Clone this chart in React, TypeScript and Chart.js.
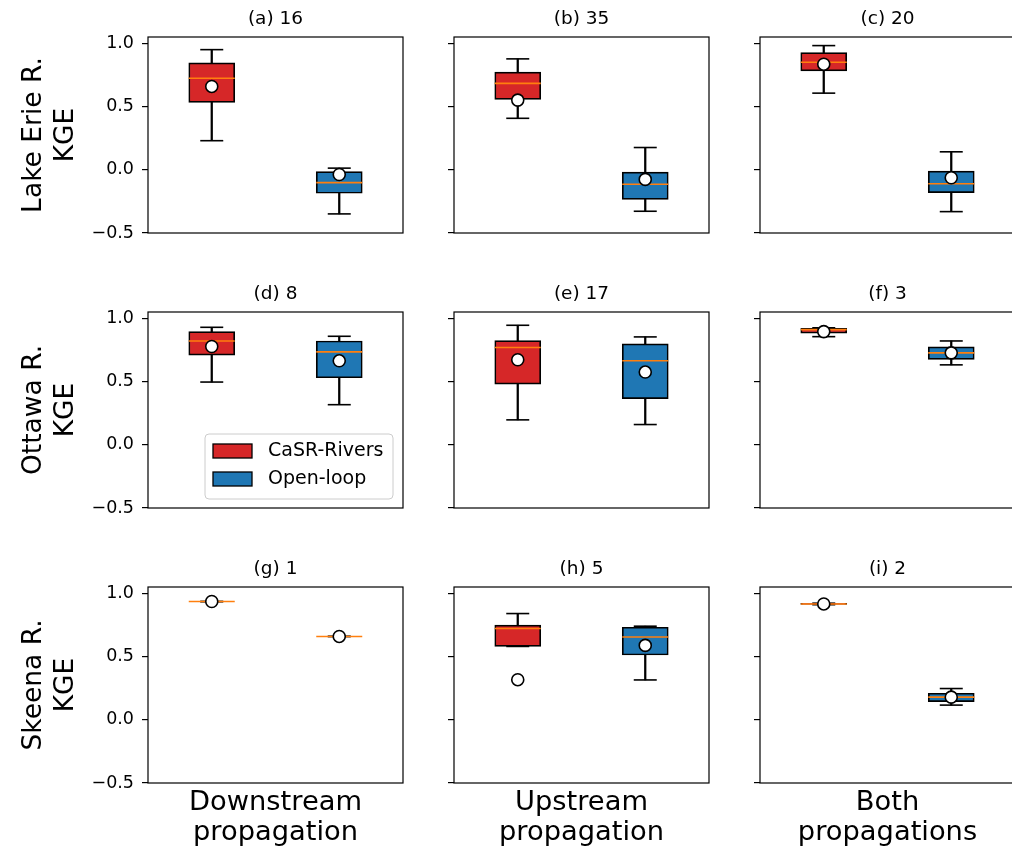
import React, { useEffect, useRef } from 'react';
import { Chart, registerables } from 'chart.js';

Chart.register(...registerables);

// ---------------- data ----------------
const seriesNames = ['CaSR-Rivers', 'Open-loop'];
const categories = ['CaSR-Rivers', 'Open-loop'];
const panelTitles = ['(a) 16', '(b) 35', '(c) 20', '(d) 8', '(e) 17', '(f) 3', '(g) 1', '(h) 5', '(i) 2'];
const rowLabels = [['Lake Erie R.', 'KGE'], ['Ottawa R.', 'KGE'], ['Skeena R.', 'KGE']];
const colLabels = [['Downstream', 'propagation'], ['Upstream', 'propagation'], ['Both', 'propagations']];
const yTicks = [-0.5, 0, 0.5, 1.0];

// per panel: [CaSR-Rivers, Open-loop]
const whiskerLow = [
  [0.23, -0.349], [0.407, -0.328], [0.606, -0.331],
  [0.496, 0.317], [0.197, 0.16], [0.855, 0.632],
  [0.935, 0.659], [0.58, 0.315], [0.91, 0.116],
];
const q1 = [
  [0.533, -0.186], [0.557, -0.234], [0.782, -0.181],
  [0.709, 0.53], [0.48, 0.365], [0.882, 0.675],
  [0.935, 0.659], [0.58, 0.512], [0.912, 0.144],
];
const medians = [
  [0.724, -0.102], [0.683, -0.115], [0.85, -0.11],
  [0.821, 0.735], [0.769, 0.664], [0.911, 0.727],
  [0.935, 0.659], [0.722, 0.654], [0.916, 0.179],
];
const q3 = [
  [0.845, -0.015], [0.772, -0.018], [0.927, -0.01],
  [0.895, 0.821], [0.824, 0.798], [0.921, 0.774],
  [0.935, 0.659], [0.748, 0.732], [0.92, 0.21],
];
const whiskerHigh = [
  [0.95, 0.013], [0.877, 0.176], [0.982, 0.142],
  [0.929, 0.858], [0.945, 0.853], [0.925, 0.821],
  [0.935, 0.659], [0.84, 0.74], [0.922, 0.247],
];
const means = [
  [0.659, -0.037], [0.551, -0.076], [0.835, -0.063],
  [0.777, 0.664], [0.672, 0.575], [0.895, 0.727],
  [0.935, 0.659], [0.317, 0.588], [0.916, 0.179],
];

// ---------------- style / layout ----------------
const RED = '#d62728';
const BLUE = '#1f77b4';
const ORANGE = '#ff7f0e';
const FONT = '"DejaVu Sans", sans-serif';
const COL_LEFT = [148, 454, 760];
const ROW_TOP = [37, 312, 587];
const PLOT_W = 255;
const PLOT_H = 196;
const TITLE_SPACE = 37;
const RIGHT_PAD = 4;

const framePlugin = {
  id: 'frame',
  afterDraw(chart: any) {
    const { ctx, chartArea } = chart;
    ctx.save();
    ctx.strokeStyle = '#000';
    ctx.lineWidth = 1.2;
    ctx.strokeRect(chartArea.left, chartArea.top, chartArea.right - chartArea.left, chartArea.bottom - chartArea.top);
    ctx.restore();
  },
};

const legendPlugin = {
  id: 'boxLegend',
  afterDraw(chart: any, _args: any, opts: any) {
    if (!opts || !opts.show) return;
    const { ctx, chartArea } = chart;
    const entries = chart.data.datasets.filter((d: any) => d.legendEntry);
    const w = 188;
    const h = 65;
    const x0 = chartArea.right - 10 - w;
    const y0 = chartArea.bottom - 9 - h;
    ctx.save();
    ctx.beginPath();
    ctx.roundRect(x0, y0, w, h, 4);
    ctx.fillStyle = 'rgba(255,255,255,0.8)';
    ctx.fill();
    ctx.strokeStyle = '#cccccc';
    ctx.lineWidth = 1;
    ctx.stroke();
    entries.forEach((d: any, i: number) => {
      const py = y0 + 10 + i * 28;
      ctx.fillStyle = d.backgroundColor;
      ctx.fillRect(x0 + 8, py, 39, 14);
      ctx.strokeStyle = '#000';
      ctx.lineWidth = 1.3;
      ctx.strokeRect(x0 + 8, py, 39, 14);
      ctx.fillStyle = '#000';
      ctx.font = '19px ' + FONT;
      ctx.textBaseline = 'middle';
      ctx.textAlign = 'left';
      ctx.fillText(d.label, x0 + 63, py + 7);
    });
    ctx.restore();
  },
};

function fmtTick(v: number) {
  const s = Math.abs(v).toFixed(1);
  return v < 0 ? '\u2212' + s : s;
}

function buildConfig(p: number, axisW: number, xAxisH: number): any {
  const r = Math.floor(p / 3);
  const c = p % 3;
  const pointLine = (data: number[], radius: number, color: string, order: number, label: string) => ({
    type: 'line',
    label,
    data,
    showLine: false,
    pointStyle: 'line',
    pointRadius: radius,
    pointBorderWidth: 1.6,
    pointBorderColor: color,
    borderColor: color,
    order,
  });
  return {
    type: 'bar',
    data: {
      labels: categories,
      datasets: [
        {
          type: 'line',
          label: 'mean',
          data: means[p],
          showLine: false,
          pointStyle: 'circle',
          pointRadius: 6,
          pointBorderWidth: 1.6,
          pointBackgroundColor: '#ffffff',
          pointBorderColor: '#000000',
          order: 0,
        },
        pointLine(medians[p], 23, ORANGE, 1, 'median'),
        {
          type: 'bar',
          label: seriesNames[0],
          data: [[q1[p][0], q3[p][0]], null],
          backgroundColor: RED,
          borderColor: '#000',
          borderWidth: 1.7,
          borderSkipped: false,
          barThickness: 46,
          grouped: false,
          order: 2,
          legendEntry: true,
        },
        {
          type: 'bar',
          label: seriesNames[1],
          data: [null, [q1[p][1], q3[p][1]]],
          backgroundColor: BLUE,
          borderColor: '#000',
          borderWidth: 1.7,
          borderSkipped: false,
          barThickness: 46,
          grouped: false,
          order: 2,
          legendEntry: true,
        },
        pointLine(whiskerHigh[p], 11.5, '#000', 3, 'capHigh'),
        pointLine(whiskerLow[p], 11.5, '#000', 3, 'capLow'),
        {
          type: 'bar',
          label: 'whisker',
          data: [
            [whiskerLow[p][0], whiskerHigh[p][0]],
            [whiskerLow[p][1], whiskerHigh[p][1]],
          ],
          backgroundColor: '#000',
          borderWidth: 0,
          barThickness: 1.6,
          grouped: false,
          order: 4,
        },
      ],
    },
    options: {
      responsive: false,
      maintainAspectRatio: false,
      animation: false,
      devicePixelRatio: 1,
      events: [],
      layout: { autoPadding: false, padding: { left: 0, right: RIGHT_PAD, top: 0, bottom: 0 } },
      plugins: {
        legend: { display: false },
        tooltip: { enabled: false },
        title: {
          display: true,
          fullSize: false,
          text: panelTitles[p],
          color: '#000',
          font: { family: FONT, size: 18.5, weight: 'normal', lineHeight: 1.2 },
          padding: { top: 8.5, bottom: 6.3 },
        },
        boxLegend: { show: p === 3 },
      },
      scales: {
        x: {
          type: 'category',
          offset: true,
          grid: { display: false },
          border: { display: false },
          ticks: { display: false },
          afterFit: (s: any) => {
            s.height = xAxisH;
          },
          title: {
            display: r === 2,
            text: colLabels[c],
            color: '#000',
            font: { family: FONT, size: 27.3, lineHeight: 1.08 },
            padding: { top: 0, bottom: 1.5 },
          },
        },
        y: {
          type: 'linear',
          min: -0.5,
          max: 1.05,
          afterBuildTicks: (s: any) => {
            s.ticks = yTicks.map((v) => ({ value: v }));
          },
          afterFit: (s: any) => {
            s.width = axisW;
          },
          grid: {
            display: true,
            drawOnChartArea: false,
            drawTicks: true,
            tickLength: 6,
            color: '#000',
            lineWidth: 1.2,
          },
          border: { display: false },
          ticks: {
            display: c === 0,
            padding: 8,
            color: '#000',
            font: { family: FONT, size: 17.5 },
            callback: (v: any) => fmtTick(Number(v)),
          },
          title: {
            display: c === 0,
            text: rowLabels[r],
            color: '#000',
            font: { family: FONT, size: 26.5, lineHeight: 1.23 },
            padding: { top: 17.5, bottom: 0 },
          },
        },
      },
    },
    plugins: [framePlugin, legendPlugin],
  };
}

function Panel({ p }: { p: number }) {
  const ref = useRef<HTMLCanvasElement | null>(null);
  const r = Math.floor(p / 3);
  const c = p % 3;
  const axisW = c === 0 ? 148 : 16;
  const xAxisH = r === 2 ? 66 : 20;
  const left = COL_LEFT[c] - axisW;
  const top = ROW_TOP[r] - TITLE_SPACE;
  const width = axisW + PLOT_W + RIGHT_PAD;
  const height = TITLE_SPACE + PLOT_H + xAxisH;

  useEffect(() => {
    if (!ref.current) return;
    const chart = new Chart(ref.current, buildConfig(p, axisW, xAxisH));
    return () => chart.destroy();
  }, [p]);

  return (
    <canvas
      ref={ref}
      width={width}
      height={height}
      style={{ position: 'absolute', left, top, width, height, display: 'block' }}
    />
  );
}

export default function App() {
  return (
    <div
      style={{
        position: 'absolute',
        left: 0,
        top: 0,
        width: 1012,
        height: 849,
        overflow: 'hidden',
        background: '#ffffff',
      }}
    >
      {panelTitles.map((_, p) => (
        <Panel key={p} p={p} />
      ))}
    </div>
  );
}
